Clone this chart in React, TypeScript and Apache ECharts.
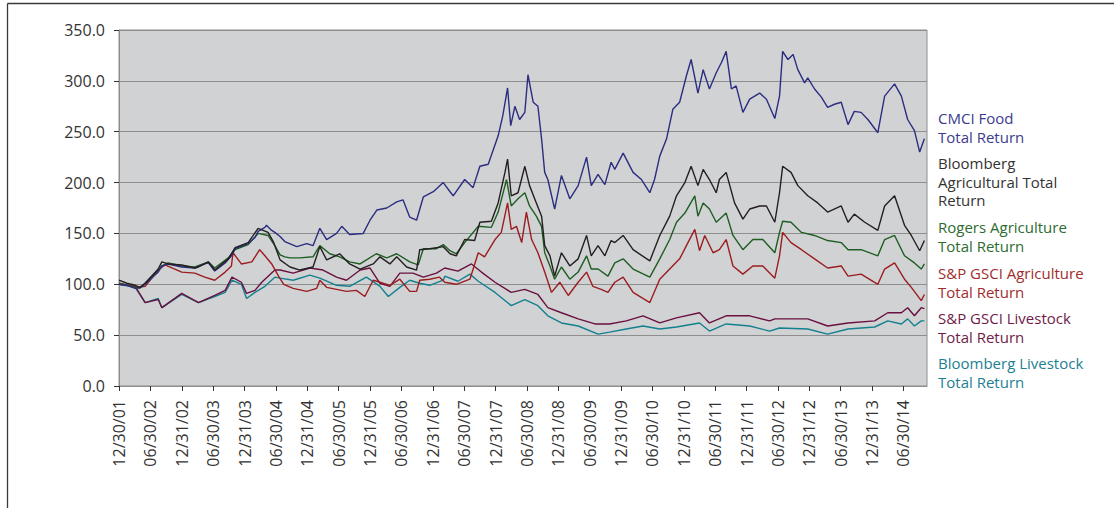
import React, { useEffect, useRef } from "react";
import * as echarts from "echarts";

// x = months since 12/30/01
const tickMonths = [0, 6, 12, 18, 24, 30, 36, 42, 48, 54, 60, 66, 72, 78, 84, 90, 96, 102, 108, 114, 120, 126, 132, 138, 144, 150];
const tickLabels = [
  "12/30/01", "06/30/02", "12/31/02", "06/30/03", "12/31/03", "06/30/04", "12/31/04", "06/30/05", "12/31/05",
  "06/30/06", "12/31/06", "06/30/07", "12/31/07", "06/30/08", "12/31/08", "06/30/09", "12/31/09", "06/30/10",
  "12/31/10", "06/30/11", "12/31/11", "06/30/12", "12/31/12", "06/30/13", "12/31/13", "06/30/14",
];

const seriesNames = [
  "CMCI Food Total Return",
  "Bloomberg Agricultural Total Return",
  "Rogers Agriculture Total Return",
  "S&P GSCI Agriculture Total Return",
  "S&P GSCI Livestock Total Return",
  "Bloomberg Livestock Total Return",
];
const legendLines = [
  ["CMCI Food", "Total Return"],
  ["Bloomberg", "Agricultural Total", "Return"],
  ["Rogers Agriculture", "Total Return"],
  ["S&P GSCI Agriculture", "Total Return"],
  ["S&P GSCI Livestock", "Total Return"],
  ["Bloomberg Livestock", "Total Return"],
];
const lineColors = ["#2b2d80", "#231f20", "#1f5e22", "#9b1d20", "#6a1040", "#13808f"];
const textColors = ["#3b3b8e", "#333333", "#2e6b2e", "#a12c2c", "#6e1c47", "#1d7f92"];

const cmciFood = [
  [0, 100], [1.5, 99], [3.1, 96], [4, 97], [5, 100], [7.5, 112], [8.2, 118], [9.4, 120], [12, 117], [14.5, 116],
  [16.4, 120], [17.1, 121], [18.3, 113], [20.3, 121], [21.5, 128], [22.2, 135], [24.7, 140], [26, 146], [26.6, 152],
  [27.9, 156], [28.2, 158], [29.2, 153], [29.8, 151], [30.8, 147], [31.7, 142], [34, 137], [35.9, 140], [37.1, 138],
  [38.4, 155], [39.7, 144], [41.6, 150], [42.6, 157], [44.1, 149], [46.7, 150], [48, 163], [49.3, 173], [51.2, 175],
  [53.1, 181], [54.3, 183], [55.6, 166], [56.9, 163], [58.2, 186], [60.1, 191], [62, 200], [63.3, 191], [63.9, 187],
  [66.1, 203], [67.7, 195], [69, 216], [70.6, 218], [72.5, 246], [73.4, 266], [74.3, 293], [74.9, 256], [75.7, 275],
  [76.6, 262], [77.6, 269], [78.2, 306], [79.2, 279], [80.1, 275], [80.8, 243], [81.4, 210], [82, 203], [83.3, 174],
  [84.6, 207], [86.2, 184], [87.8, 197], [89.4, 225], [90.3, 197], [91.6, 208], [92.9, 198], [94.1, 220], [94.8, 213],
  [96.4, 229], [98.3, 210], [99.9, 203], [101.5, 190], [102.4, 203], [103.4, 226], [104.7, 243], [105.9, 272],
  [107.2, 279], [108.5, 305], [109.4, 321], [110.7, 288], [111.7, 311], [112.9, 292], [114.2, 308], [115.2, 318],
  [116.1, 329], [117.1, 292], [118, 295], [119.3, 269], [120.6, 282], [122.5, 288], [123.8, 282], [125.4, 263],
  [126.3, 285], [126.9, 329], [127.9, 321], [128.9, 326], [129.8, 311], [131.1, 298], [131.7, 303], [133, 292],
  [134.3, 284], [135.5, 274], [136.8, 277], [138.1, 279], [139.4, 257], [140.6, 270], [141.9, 269], [143.2, 262],
  [145.1, 249], [146.4, 285], [148.3, 297], [149.6, 285], [150.8, 262], [152.1, 251], [153.1, 230], [154, 243],
];

const bbgAgri = [
  [0, 104], [1.5, 101], [3.1, 99], [4, 97], [5, 101], [7.5, 115], [8.2, 122], [9.4, 120], [12, 119], [14.5, 116],
  [15.2, 117], [17.1, 122], [18.3, 114], [20.9, 125], [22.2, 136], [24.7, 141], [26.6, 155], [28.5, 151], [29.5, 142],
  [30.8, 124], [32.7, 117], [34.6, 114], [37.1, 117], [38.4, 137], [39.7, 124], [42.2, 130], [44.1, 120], [46.1, 115],
  [48.6, 120], [49.9, 127], [51.8, 120], [53.1, 127], [55, 117], [56.9, 114], [57.5, 134], [59.4, 135], [62, 137],
  [63.3, 130], [64.5, 128], [66.1, 144], [68, 143], [69, 161], [71.2, 162], [72.5, 180], [73.8, 210], [74.3, 223],
  [75, 187], [76.3, 190], [77.6, 216], [78.5, 197], [79.8, 180], [80.8, 167], [81.4, 138], [82.4, 128], [83.3, 108],
  [84.6, 131], [86.2, 118], [87.8, 125], [89.4, 148], [90.3, 128], [91.6, 138], [92.9, 128], [94.1, 143], [94.8, 141],
  [96.4, 148], [98.3, 134], [101.5, 123], [103.4, 148], [105.3, 167], [106.6, 187], [108.2, 200], [109.4, 216],
  [110.7, 197], [111.7, 213], [112.9, 203], [114.2, 190], [114.8, 203], [116.1, 210], [117.7, 180], [119.3, 164],
  [120.6, 174], [122.5, 177], [123.8, 177], [125.4, 161], [126.3, 190], [126.9, 216], [128.5, 210], [129.8, 197],
  [131.7, 187], [133.6, 180], [135.5, 171], [138.1, 177], [139.4, 161], [140.6, 169], [142.6, 161], [145.1, 153],
  [146.4, 177], [148.3, 187], [150.2, 158], [151.5, 148], [153.1, 133], [154, 143],
];

const rogersAgri = [
  [0, 101], [3.1, 97], [4, 96], [7.5, 114], [8.2, 118], [9.4, 121], [12, 118], [14.5, 117], [17.1, 122], [18.3, 116],
  [20.9, 126], [22.2, 134], [24.7, 139], [26.6, 150], [28.5, 148], [29.8, 138], [30.8, 129], [31.7, 127], [32.7, 126],
  [34.6, 126], [37.1, 127], [38.4, 138], [40.3, 130], [42.2, 127], [44.1, 122], [46.1, 120], [49.2, 130], [51.2, 126],
  [53.1, 130], [55.6, 122], [57.2, 119], [58.2, 135], [60.7, 135], [62, 139], [63.3, 133], [64.5, 130], [66.1, 141],
  [68.7, 157], [71.2, 156], [72.5, 171], [74.1, 203], [75, 177], [76.3, 184], [77.6, 190], [78.5, 177], [79.8, 167],
  [80.8, 157], [81.4, 131], [82.4, 118], [83.3, 105], [84.6, 117], [86.2, 105], [87.8, 112], [89.4, 128], [90.3, 115],
  [91.6, 115], [93.5, 108], [94.8, 121], [96.4, 125], [98.3, 115], [101.5, 107], [103.4, 125], [105.3, 144],
  [106.6, 161], [108.2, 170], [110.1, 187], [110.7, 167], [111.7, 180], [112.9, 174], [114.2, 161], [116.1, 170],
  [117.4, 148], [119.3, 134], [121.2, 144], [123.1, 144], [125.4, 131], [126.3, 151], [126.9, 162], [128.5, 161],
  [130.5, 151], [133, 148], [135.5, 143], [138.1, 141], [139.4, 134], [141.9, 134], [145.1, 128], [146.4, 144],
  [148.3, 148], [150.2, 128], [152.1, 121], [153.4, 115], [154, 120],
];

const gsciAgri = [
  [0, 101], [3.7, 97], [5, 98], [7.5, 114], [8.8, 119], [12, 112], [14.5, 111], [16.4, 107], [18.3, 104], [20.3, 112],
  [21.5, 118], [21.8, 131], [23.4, 120], [25.4, 122], [26.9, 134], [27.9, 128], [29.2, 120], [30.5, 108], [31.5, 100],
  [33.3, 96], [35.9, 93], [37.8, 96], [38.4, 104], [39.7, 97], [43.5, 93], [45.4, 94], [47, 88], [48.6, 104],
  [49.9, 102], [51.8, 99], [53.7, 105], [55.6, 93], [56.9, 93], [57.5, 104], [59.4, 105], [61.3, 107], [62.3, 102],
  [64.5, 100], [67.1, 105], [68.7, 131], [69.9, 127], [71.9, 144], [73.1, 151], [74.3, 180], [75, 154], [76, 157],
  [77, 141], [77.9, 171], [78.9, 144], [80.1, 131], [81.4, 112], [82.7, 92], [84.3, 102], [85.9, 89], [87.8, 102],
  [89.4, 112], [90.6, 98], [92.2, 95], [93.5, 92], [94.8, 102], [96.4, 107], [98.3, 92], [101.5, 82], [103.4, 105],
  [105.3, 115], [107.2, 125], [108.5, 138], [110.1, 154], [111, 133], [112, 148], [113.6, 131], [114.8, 134],
  [116.1, 144], [117.4, 118], [119.3, 110], [121.2, 118], [123.1, 118], [125.4, 106], [126.3, 128], [126.9, 151],
  [128.5, 141], [130.5, 134], [133, 125], [135.5, 116], [138.1, 118], [139.4, 108], [141.9, 110], [145.1, 100],
  [146.4, 115], [148.3, 121], [150.2, 105], [151.5, 97], [153.4, 84], [154, 90],
];

const gsciLivestock = [
  [0, 100], [3.1, 98], [5, 82], [7.5, 85], [8.2, 77], [12, 91], [15.2, 82], [18.3, 89], [20.3, 94], [21.6, 107],
  [23.4, 102], [24.4, 91], [26, 94], [27.3, 102], [29.8, 114], [30.8, 114], [33.3, 111], [36.5, 116], [39, 114],
  [41.6, 107], [43.5, 104], [46.1, 114], [48, 116], [49.9, 101], [51.8, 98], [53.7, 111], [56.2, 111], [58.2, 107],
  [60.7, 111], [62.3, 116], [64.8, 113], [67.4, 120], [69.3, 112], [71.9, 102], [75, 92], [77.6, 95], [80.1, 90],
  [82, 77], [84.6, 72], [87.8, 66], [91, 61], [93.8, 61], [97, 64], [100.2, 69], [103.4, 62], [106.6, 67], [111, 72],
  [112.9, 62], [116.1, 69], [120.6, 69], [124.4, 64], [125.4, 66], [131.7, 66], [135.5, 59], [139.4, 62], [144.5, 64],
  [147, 72], [149.6, 72], [150.8, 77], [152.1, 69], [153.4, 77], [154, 76],
];

const bbgLivestock = [
  [0, 100], [3.1, 97], [5, 82], [7.5, 86], [8.2, 77], [12, 90], [15.2, 82], [18.3, 88], [20.3, 92], [21.6, 104],
  [23.4, 100], [24.4, 86], [26, 92], [27.9, 98], [29.8, 107], [30.8, 106], [33.3, 104], [36.5, 109], [38.4, 106],
  [41.6, 99], [44.1, 98], [47.3, 107], [49.9, 98], [51.5, 88], [53.7, 97], [55.6, 104], [57.5, 101], [59.4, 99],
  [62, 104], [62.3, 108], [64.8, 103], [67.1, 110], [68.7, 103], [71.9, 92], [75, 79], [77.6, 85], [80.1, 79],
  [82, 69], [84.6, 62], [87.8, 59], [91.6, 51], [93.8, 53], [97, 56], [100.2, 59], [103.4, 56], [106.6, 58], [111, 62],
  [112.9, 54], [116.1, 61], [120.6, 59], [124.4, 54], [126.3, 57], [131.7, 56], [135.5, 51], [139.4, 56], [144.5, 58],
  [147, 64], [149.6, 61], [150.8, 66], [152.1, 59], [153.4, 64], [154, 64],
];

const allData = [cmciFood, bbgAgri, rogersAgri, gsciAgri, gsciLivestock, bbgLivestock];
const drawOrder = [5, 4, 3, 2, 0, 1];
const legendFirstLineY = [118, 163, 227, 273, 318, 363];

export default function App() {
  const ref = useRef<HTMLDivElement>(null);
  useEffect(() => {
    if (!ref.current) return;
    const chart = echarts.init(ref.current, null, { renderer: "svg" });
    const font = "'Open Sans', 'Noto Sans', sans-serif";
    const graphic: any[] = [
      { type: "line", shape: { x1: 7.5, y1: 3.5, x2: 1114, y2: 3.5 }, style: { stroke: "#3a3a3a", lineWidth: 1.3 } },
      { type: "line", shape: { x1: 7.5, y1: 3.5, x2: 7.5, y2: 508 }, style: { stroke: "#3a3a3a", lineWidth: 1.3 } },
    ];
    legendLines.forEach((lines, i) => {
      lines.forEach((t, j) => {
        graphic.push({
          type: "text",
          x: 938,
          y: legendFirstLineY[i] + j * 18.6,
          style: {
            text: t,
            fill: textColors[i],
            font: `15px ${font}`,
            textVerticalAlign: "middle",
            verticalAlign: "middle",
          },
        });
      });
    });
    chart.setOption({
      animation: false,
      backgroundColor: "#ffffff",
      grid: {
        left: 119,
        right: 187,
        top: 30,
        bottom: 122,
        show: true,
        backgroundColor: "#d1d2d4",
        borderColor: "#8e8e8e",
        borderWidth: 1,
        containLabel: false,
      },
      xAxis: {
        type: "value",
        min: 0,
        max: 154.5,
        axisLine: { show: true, lineStyle: { color: "#8e8e8e", width: 1 } },
        axisTick: { show: true, length: 5, customValues: tickMonths, lineStyle: { color: "#333" } },
        splitLine: { show: false },
        axisLabel: {
          customValues: tickMonths,
          rotate: 90,
          margin: 14,
          color: "#333",
          fontSize: 16,
          fontFamily: font,
          formatter: (v: number) => tickLabels[Math.round(v / 6)] ?? "",
        },
      },
      yAxis: {
        type: "value",
        min: 0,
        max: 350,
        interval: 50,
        axisLine: { show: true, lineStyle: { color: "#8e8e8e", width: 1 } },
        axisTick: { show: true, length: 5, lineStyle: { color: "#333" } },
        splitLine: { show: true, lineStyle: { color: "#8e8e8e", width: 1 } },
        axisLabel: {
          margin: 14,
          color: "#333",
          fontSize: 16,
          fontFamily: font,
          formatter: (v: number) => v.toFixed(1),
        },
      },
      graphic,
      series: drawOrder.map((i) => ({
        name: seriesNames[i],
        type: "line",
        data: allData[i],
        showSymbol: false,
        symbol: "none",
        lineStyle: { color: lineColors[i], width: 1.4 },
        itemStyle: { color: lineColors[i] },
      })),
    });
    return () => chart.dispose();
  }, []);
  return <div ref={ref} style={{ position: "absolute", left: 0, top: 0, width: 1114, height: 508 }} />;
}
